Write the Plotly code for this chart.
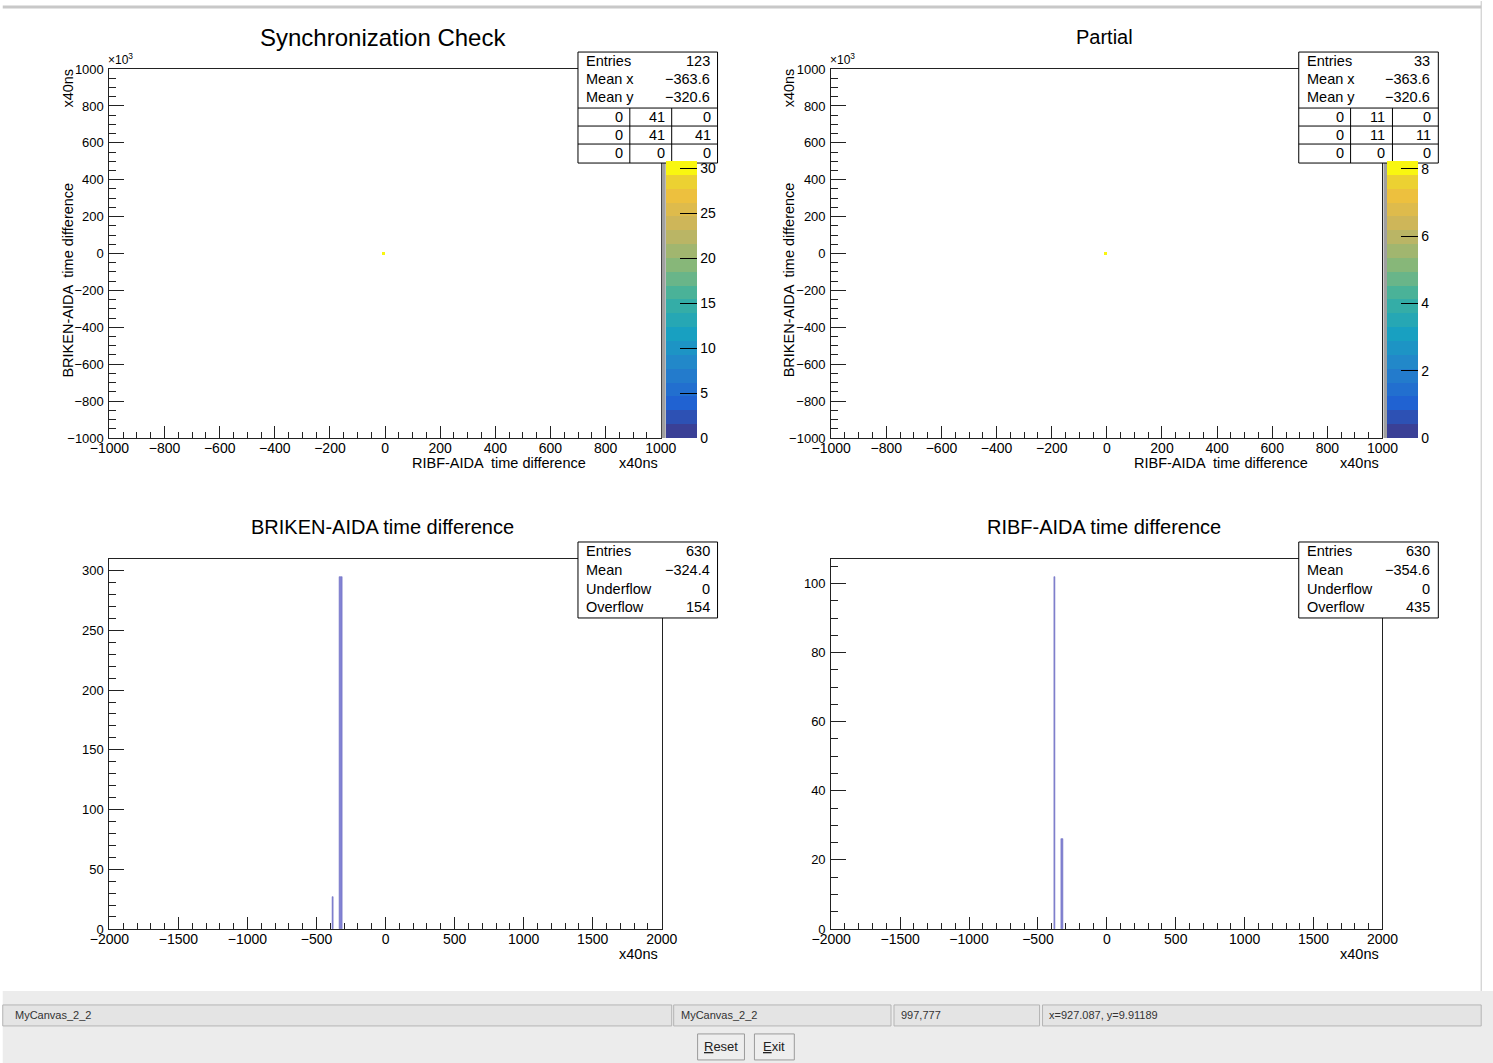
import plotly.graph_objects as go

# ---------------- data ----------------
# 2D "Synchronization Check" (x: RIBF-AIDA, y: BRIKEN-AIDA in units of 10^3)
sync_x = [-15, -5, 5]
sync_y = [-16, 0, 16]
sync_z = [[None, None, None],
          [None, 30, None],
          [None, None, None]]
sync_zmax = 30.8
sync_stats = {"Entries": "123", "Mean x": "\u2212363.6", "Mean y": "\u2212320.6"}
sync_grid = [["0", "41", "0"], ["0", "41", "41"], ["0", "0", "0"]]

# 2D "Partial"
part_x = [-15, -5, 5]
part_y = [-16, 0, 16]
part_z = [[None, None, None],
          [None, 8, None],
          [None, None, None]]
part_zmax = 8.23
part_stats = {"Entries": "33", "Mean x": "\u2212363.6", "Mean y": "\u2212320.6"}
part_grid = [["0", "11", "0"], ["0", "11", "11"], ["0", "0", "0"]]

# 1D BRIKEN-AIDA time difference
briken_x = [-380, -325]
briken_counts = [27, 295]
briken_stats = {"Entries": "630", "Mean": "\u2212324.4", "Underflow": "0", "Overflow": "154"}

# 1D RIBF-AIDA time difference
ribf_x = [-380, -322]
ribf_counts = [102, 26]
ribf_stats = {"Entries": "630", "Mean": "\u2212354.6", "Underflow": "0", "Overflow": "435"}

# ---------------- helpers ----------------
W, H = 1493, 1063
FONT = "Liberation Sans"
# mapping from target-picture pixels to page pixels (as observed in rendering)
SX, TX = 0.9789, 17.3
SY, TY = 0.986, 5.95


def px(x):
    return ((x - TX) / SX) / W


def py(y):
    return 1 - ((y - TY) / SY) / H


# ROOT kBird palette
bird_s = [0, .125, .25, .375, .5, .625, .75, .875, 1]
bird_r = [0.2082, 0.0592, 0.0780, 0.0232, 0.1802, 0.5301, 0.8186, 0.9956, 0.9764]
bird_g = [0.1664, 0.3599, 0.5041, 0.6419, 0.7178, 0.7492, 0.7328, 0.7862, 0.9832]
bird_b = [0.5293, 0.8684, 0.8385, 0.7914, 0.6425, 0.4662, 0.3499, 0.1968, 0.0539]


def bird(t, mix=0.0):
    for i in range(len(bird_s) - 1):
        if bird_s[i] <= t <= bird_s[i + 1]:
            f = (t - bird_s[i]) / (bird_s[i + 1] - bird_s[i])
            r = bird_r[i] + f * (bird_r[i + 1] - bird_r[i])
            g = bird_g[i] + f * (bird_g[i + 1] - bird_g[i])
            b = bird_b[i] + f * (bird_b[i + 1] - bird_b[i])
            r, g, b = [(1 - mix) * c + mix * 0.55 for c in (r, g, b)]
            return "rgb(%d,%d,%d)" % (r * 255, g * 255, b * 255)
    return "rgb(249,251,14)"


NB = 20
cscale = []
for i in range(NB):
    c = bird((i + 0.5) / NB, 0.14)
    cscale.append([i / NB, c])
    cscale.append([(i + 1) / NB, c])
cscale[-1] = [1.0, bird(0.99)]
cscale[-2] = [0.95, bird(0.99)]

fig = go.Figure()

# frames (target pixel boxes): left, right, top, bottom
frames = {
    "1": (107, 660, 68, 437),
    "2": (831, 1384, 68, 437),
    "3": (107, 661, 558, 928),
    "4": (831, 1384, 558, 928),
}


def cbar(xleft, top, bottom, dtick):
    return dict(x=px(xleft), xanchor="left", xpad=0, ypad=0,
                thickness=31, thicknessmode="pixels",
                len=(bottom - top) / SY / H, lenmode="fraction", y=py(bottom), yanchor="bottom",
                ticks="inside", ticklen=17, tickcolor="black", tickwidth=1,
                tick0=0, dtick=dtick, outlinewidth=0,
                tickfont=dict(family=FONT, size=14, color="black"))


fig.add_trace(go.Heatmap(x=sync_x, y=sync_y, z=sync_z, zmin=0, zmax=sync_zmax,
                         colorscale=cscale, hoverongaps=False, xaxis="x", yaxis="y",
                         colorbar=cbar(665, 160, 437, 5)))
fig.add_trace(go.Heatmap(x=part_x, y=part_y, z=part_z, zmin=0, zmax=part_zmax,
                         colorscale=cscale, hoverongaps=False, xaxis="x2", yaxis="y2",
                         colorbar=cbar(1389, 160, 437, 2)))

BAR_COLOR = "#8383d3"
fig.add_trace(go.Bar(x=briken_x, y=briken_counts, width=[8, 24], marker=dict(
    color=BAR_COLOR, line=dict(color="#6e6ec2", width=0.6)), xaxis="x3", yaxis="y3", showlegend=False))
fig.add_trace(go.Bar(x=ribf_x, y=ribf_counts, width=[8, 16], marker=dict(
    color=BAR_COLOR, line=dict(color="#6e6ec2", width=0.6)), xaxis="x4", yaxis="y4", showlegend=False))


def axis(key, is_x, rng, dtick, minor_dtick, ticklen, minorlen):
    l, r, t, b = frames[key]
    dom = [px(l), px(r)] if is_x else [py(b), py(t)]
    d = dict(domain=dom, range=rng, showline=True, linecolor="#222", linewidth=1,
             mirror=True, ticks="inside", ticklen=ticklen, tickcolor="#222", tickwidth=1,
             tick0=0, dtick=dtick, showgrid=False, zeroline=False, fixedrange=True,
             tickfont=dict(family=FONT, size=14 if is_x else 13, color="black"),
             minor=dict(ticks="inside", ticklen=minorlen, dtick=minor_dtick, tick0=0,
                        tickcolor="#222", showgrid=False))
    d["ticklabelstandoff"] = -3 if is_x else 2
    d["anchor"] = ("y" if is_x else "x") + ("" if key == "1" else key)
    return d


layout_axes = {
    "xaxis": axis("1", True, [-1000, 1000], 200, 50, 12, 6),
    "yaxis": axis("1", False, [-1000, 1000], 200, 50, 15, 7),
    "xaxis2": axis("2", True, [-1000, 1000], 200, 50, 12, 6),
    "yaxis2": axis("2", False, [-1000, 1000], 200, 50, 15, 7),
    "xaxis3": axis("3", True, [-2000, 2000], 500, 100, 12, 6),
    "yaxis3": axis("3", False, [0, 309.75], 50, 10, 15, 7),
    "xaxis4": axis("4", True, [-2000, 2000], 500, 100, 12, 6),
    "yaxis4": axis("4", False, [0, 107.1], 20, 5, 15, 7),
}

shapes = []
annots = []


def rect(x0, y0, x1, y1, fill="white", line="black", lw=1, layer="above"):
    shapes.append(dict(type="rect", xref="paper", yref="paper", x0=px(x0), x1=px(x1),
                       y0=py(y1), y1=py(y0), fillcolor=fill,
                       line=dict(color=line, width=lw), layer=layer))


def hline(x0, x1, y, color="black", lw=1):
    shapes.append(dict(type="line", xref="paper", yref="paper", x0=px(x0), x1=px(x1),
                       y0=py(y), y1=py(y), line=dict(color=color, width=lw), layer="above"))


def vline(x, y0, y1, color="black", lw=1):
    shapes.append(dict(type="line", xref="paper", yref="paper", x0=px(x), x1=px(x),
                       y0=py(y0), y1=py(y1), line=dict(color=color, width=lw), layer="above"))


def text(x, y, s, size=13, anchor="center", angle=0, color="black", yanchor="middle"):
    annots.append(dict(x=px(x), y=py(y), xref="paper", yref="paper", text=s, showarrow=False,
                       xanchor=anchor, yanchor=yanchor, textangle=angle,
                       font=dict(family=FONT, size=size, color=color)))


# colorbar grey strips
rect(661, 160, 665, 437, fill="#a0a0a0", line="#a0a0a0", lw=0)
rect(1385, 160, 1389, 437, fill="#a0a0a0", line="#a0a0a0", lw=0)

SFS = 14.5


def stats2d(x0, stats, grid):
    x1 = x0 + 140
    rect(x0, 51, x1, 162)
    rows = [60, 78, 96]
    for (k, v), yy in zip(stats.items(), rows):
        text(x0 + 6, yy, k, size=SFS, anchor="left")
        text(x1 - 6, yy, v, size=SFS, anchor="right")
    for yy in [107, 125, 143]:
        hline(x0, x1, yy)
    vline(x0 + 52, 107, 162)
    vline(x0 + 94, 107, 162)
    rights = [x0 + 47, x0 + 89, x1 - 5]
    for r, yy in zip(grid, [116, 134, 152]):
        for v, xr in zip(r, rights):
            text(xr, yy, v, size=SFS, anchor="right")


def stats1d(x0, stats):
    x1 = x0 + 140
    rect(x0, 541, x1, 617)
    for (k, v), yy in zip(stats.items(), [550, 569, 588, 606]):
        text(x0 + 6, yy, k, size=SFS, anchor="left")
        text(x1 - 6, yy, v, size=SFS, anchor="right")


stats2d(577, sync_stats, sync_grid)
stats2d(1300, part_stats, part_grid)
stats1d(577, briken_stats)
stats1d(1300, ribf_stats)

# titles
text(381, 36, "Synchronization Check", size=24)
text(1105, 36, "Partial", size=20)
text(381, 526, "BRIKEN-AIDA time difference", size=20)
text(1105, 526, "RIBF-AIDA time difference", size=20)

# axis titles
for off in (0, 724):
    text(587 + off, 462, "RIBF-AIDA  time difference", size=14.5, anchor="right")
    text(659 + off, 462, "x40ns", size=14.5, anchor="right")
    text(65 + off, 279, "BRIKEN-AIDA  time difference", size=14.5, angle=-90)
    text(65 + off, 87, "x40ns", size=14.5, angle=-90)
    text(104 + off, 58, "\u00d710<sup>3</sup>", size=12, anchor="left")
    text(659 + off, 953, "x40ns", size=14.5, anchor="right")

# canvas border and GUI bar
hline(0, 1483, 6, color="#c8c8c8", lw=3)
vline(1483, 0, 990, color="#c4c4c4", lw=1)
rect(0, 990, 1500, 1070, fill="#ececec", line="#ececec", lw=0)
for (a, b) in [(0, 671), (673, 891), (894, 1040), (1043, 1483)]:
    rect(a, 1004, b, 1025, fill="#e4e4e4", line="#b4b4b4", lw=1)
text(10, 1014, "MyCanvas_2_2", size=11, anchor="left", color="#333")
text(678, 1014, "MyCanvas_2_2", size=11, anchor="left", color="#333")
text(899, 1014, "997,777", size=11, anchor="left", color="#333")
text(1047, 1014, "x=927.087, y=9.91189", size=11, anchor="left", color="#333")
rect(697, 1033, 744, 1059, fill="#eeeeee", line="#9a9a9a", lw=1)
rect(754, 1033, 794, 1059, fill="#eeeeee", line="#9a9a9a", lw=1)
text(720.5, 1046, "<u>R</u>eset", size=13, color="#222")
text(774, 1046, "<u>E</u>xit", size=13, color="#222")

fig.update_layout(
    width=W, height=H, autosize=False,
    margin=dict(l=0, r=0, t=0, b=0, pad=0),
    paper_bgcolor="white", plot_bgcolor="white",
    showlegend=False, bargap=0,
    shapes=shapes, annotations=annots,
    font=dict(family=FONT, size=13, color="black"),
    **layout_axes,
)

fig.write_html("out.html", config={"displayModeBar": False},
               post_script="document.body.style.margin='0';document.body.style.overflow='hidden';")
